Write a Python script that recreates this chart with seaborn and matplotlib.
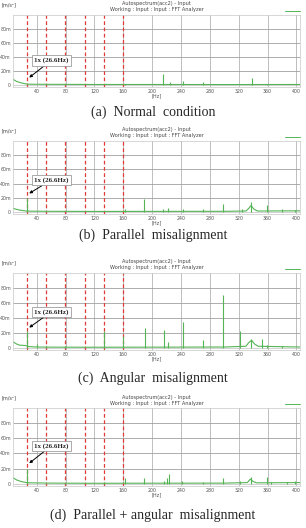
import matplotlib
matplotlib.use("Agg")
import matplotlib.pyplot as plt
import numpy as np
import pandas as pd
import seaborn as sns

# harmonic markers (1x .. 6x of 26.6 Hz)
harmonics = [26.6, 53.2, 79.8, 106.4, 133.0, 159.6]
x_ticks = [40, 80, 120, 160, 200, 240, 280, 320, 360, 400]
y_ticks = [0, 20, 40, 60, 80]
y_ticklabels = ["0", "20m", "40m", "60m", "80m"]

captions = ["(a)  Normal  condition", "(b)  Parallel  misalignment",
            "(c)  Angular  misalignment", "(d)  Parallel + angular  misalignment"]

# noise floor (Hz, m/s^2 * 1e-3)
floor_a_f = [7, 12, 18, 24, 30, 60, 120, 200, 300, 405]
floor_a_v = [8, 5, 3, 1.6, 1.0, 0.8, 0.6, 0.6, 0.5, 0.6]
floor_b_f = [7, 12, 18, 24, 30, 60, 120, 200, 300, 330, 334, 337, 341, 346, 405]
floor_b_v = [5, 3.5, 2.2, 1.4, 1.0, 0.8, 0.6, 0.7, 0.8, 1.2, 5, 9, 4, 1.2, 1.5]
floor_c_f = [7, 12, 16, 24, 30, 40, 60, 120, 200, 300, 330, 334, 338, 342, 347, 405]
floor_c_v = [8, 5, 3.5, 3, 1.5, 1.0, 0.8, 0.7, 0.8, 1.0, 2, 7, 10, 5, 2, 1.0]
floor_d_f = [7, 12, 18, 24, 30, 60, 120, 200, 300, 332, 336, 340, 345, 405]
floor_d_v = [8, 5, 3, 1.8, 1.2, 0.8, 0.6, 0.7, 0.8, 1.5, 6, 3, 1.2, 1.5]

# spectral peaks
peaks_a_f = [26.6, 53.2, 79.8, 162, 215, 224.7, 243, 271, 338, 359]
peaks_a_v = [1.8, 1.2, 1.2, 1.8, 16, 4, 6, 3.5, 10, 2]
peaks_b_f = [26.6, 53.2, 162, 188.6, 215, 222.5, 243, 271, 297.8, 324, 336.7, 359, 380, 398]
peaks_b_v = [20, 1.5, 3.6, 18, 3.6, 6, 3.6, 3.6, 11, 3.6, 14, 10, 3.6, 2]
peaks_c_f = [26.6, 40, 53.2, 79.8, 133, 159.6, 190, 216, 222, 243, 271, 297.8, 322, 336.7, 352.5, 359, 380]
peaks_c_v = [22, 5, 2, 3, 22, 16, 27, 24, 8, 35, 10, 70, 23, 12, 12, 4, 3]
peaks_d_f = [26.6, 53.2, 79.8, 133, 162, 189, 216, 220, 222.7, 241, 271, 298, 322, 337, 359, 365, 387, 398]
peaks_d_v = [20, 1.5, 1.5, 2, 7, 7, 4, 7, 13.5, 4, 2, 7, 4, 9, 9, 2, 2, 3]

panels = [
    (floor_a_f, floor_a_v, peaks_a_f, peaks_a_v, 35, 10.5),
    (floor_b_f, floor_b_v, peaks_b_f, peaks_b_v, 45, 26),
    (floor_c_f, floor_c_v, peaks_c_f, peaks_c_v, 48, 27),
    (floor_d_f, floor_d_v, peaks_d_f, peaks_d_v, 50, 27),
]

# pixel layout: (plot top, plot bottom, caption y)
layout = [(15, 87, 112), (141, 214, 235), (273, 350, 378), (408, 486, 515)]

W, H = 306, 528
sns.set_style("white")
fig = plt.figure(figsize=(W / 100, H / 100), dpi=100)

green = "#55b455"
red = "#e03a3a"
serif = ["Liberation Serif", "DejaVu Serif"]

for i, (ff, fv, pf, pv, box_y, tip_y) in enumerate(panels):
    top, bot, cap_y = layout[i]
    left, right = 13, 300
    ax = fig.add_axes([left / W, 1 - bot / H, (right - left) / W, (bot - top) / H])
    ax.set_facecolor("white")

    for xt in x_ticks:
        ax.axvline(xt, color="#b4b4b4", lw=0.6, zorder=0)
    for yt in y_ticks[1:]:
        ax.axhline(yt, color="#a0a0a0", lw=0.6, zorder=0)
    ax.axhline(0, color="#c0c0c0", lw=0.5, zorder=0)

    for h in harmonics:
        ax.axvline(h, color=red, lw=0.9, ls=(0, (3, 2)), zorder=1)

    df = pd.DataFrame({"f": ff, "v": fv})
    sns.lineplot(data=df, x="f", y="v", ax=ax, color=green, lw=0.8, zorder=2)
    ax.vlines(pf, 0, pv, color=green, lw=0.8, zorder=2)

    ax.set_xlim(7, 405)
    ax.set_ylim(-3, 100)
    ax.set_xticks(x_ticks)
    ax.set_xticklabels([str(t) for t in x_ticks])
    ax.set_yticks(y_ticks)
    ax.set_yticklabels(y_ticklabels)
    ax.tick_params(labelsize=3.4, colors="#555555", length=0, pad=1.5)
    ax.set_xlabel("[Hz]", fontsize=3.6, color="#555555", labelpad=-0.5)
    ax.set_ylabel("")
    for s in ax.spines.values():
        s.set_color("#c8c8c8")
        s.set_linewidth(0.5)

    ax.annotate("1x (26.6Hz)", xy=(29.5, tip_y), xytext=(60, box_y),
                fontsize=5, fontweight="bold", family=serif,
                ha="center", va="center",
                bbox=dict(boxstyle="square,pad=0.35", fc="white", ec="#8a8a8a", lw=0.5),
                arrowprops=dict(arrowstyle="-|>", color="black", lw=0.7,
                                mutation_scale=4, shrinkA=0, shrinkB=0),
                zorder=5)

    cx = (left + right) / 2 / W
    fig.text(cx, 1 - (top - 11) / H, "Autospectrum(acc2) - Input",
             fontsize=3.6, color="#444444", ha="center", va="center")
    fig.text(cx, 1 - (top - 5) / H, "Working : Input : Input : FFT Analyzer",
             fontsize=3.6, color="#444444", ha="center", va="center")
    fig.text(2 / W, 1 - (top - 10) / H, "[m/s²]", fontsize=3.6,
             color="#444444", ha="left", va="center")
    fig.add_artist(plt.Line2D([285 / W, 300 / W], [1 - (top - 4) / H] * 2,
                              color=green, lw=0.7))

    fig.text(153 / W, 1 - cap_y / H, captions[i], fontsize=10,
             family=serif, ha="center", va="center")

fig.savefig("out.png", dpi=100)
